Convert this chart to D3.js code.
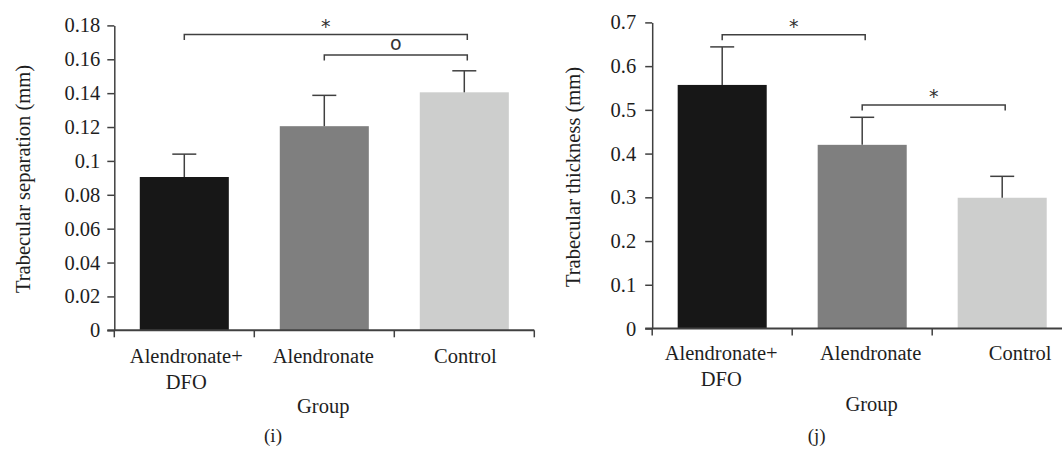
<!DOCTYPE html>
<html><head><meta charset="utf-8">
<script src="https://cdn.jsdelivr.net/npm/d3@7"></script>
<style>
body{margin:0;background:#fff;}
svg{display:block;}
text{font-family:"Liberation Serif","Times New Roman",serif;fill:#1e1e1e;}
text.mark{font-family:"DejaVu Sans",sans-serif;fill:#333;}
</style></head>
<body>
<svg id="chart" width="1062" height="451"></svg>
<script>
// ---- data ----
const categories = ["Alendronate+\nDFO", "Alendronate", "Control"];
const barColors = ["#171717", "#7f7f7f", "#cdcecd"];

// panel (i) Trabecular separation
const sepMeans = [0.0905, 0.1205, 0.1405];
const sepErrTop = [0.104, 0.1387, 0.1532];
const sepTicks = [0, 0.02, 0.04, 0.06, 0.08, 0.1, 0.12, 0.14, 0.16, 0.18];
const sepTickLabels = ["0", "0.02", "0.04", "0.06", "0.08", "0.1", "0.12", "0.14", "0.16", "0.18"];
const sepBrackets = [
  {from: 0, to: 2, level: 0.1746, mark: "*"},
  {from: 1, to: 2, level: 0.1625, mark: "o"}
];

// panel (j) Trabecular thickness
const thkMeans = [0.557, 0.42, 0.299];
const thkErrTop = [0.644, 0.483, 0.348];
const thkTicks = [0, 0.1, 0.2, 0.3, 0.4, 0.5, 0.6, 0.7];
const thkTickLabels = ["0", "0.1", "0.2", "0.3", "0.4", "0.5", "0.6", "0.7"];
const thkBrackets = [
  {from: 0, to: 1, level: 0.672, mark: "*"},
  {from: 1, to: 2, level: 0.511, mark: "*"}
];

const svg = d3.select("#chart");
const lineColor = "#404040";

function panel(cfg) {
  const g = svg.append("g");
  const x = d3.scaleBand().domain(d3.range(categories.length))
    .range([cfg.x0, cfg.x0 + 3 * 140]).paddingInner(0.364).paddingOuter(0.182);
  const y = d3.scaleLinear().domain([0, cfg.yMax]).range([cfg.y0, cfg.yTop]);
  const cx = i => x(i) + x.bandwidth() / 2;

  // bars
  g.selectAll("rect.bar").data(cfg.means).join("rect")
    .attr("x", (d, i) => x(i)).attr("width", x.bandwidth())
    .attr("y", d => y(d)).attr("height", d => y(0) - y(d))
    .attr("fill", (d, i) => barColors[i]);

  // error bars (upper only)
  const eg = g.selectAll("g.err").data(cfg.errTop).join("g");
  eg.append("line").attr("x1", (d, i) => cx(i)).attr("x2", (d, i) => cx(i))
    .attr("y1", (d, i) => y(cfg.means[i])).attr("y2", d => y(d))
    .attr("stroke", lineColor).attr("stroke-width", 1.5);
  eg.append("line").attr("x1", (d, i) => cx(i) - 12).attr("x2", (d, i) => cx(i) + 12)
    .attr("y1", d => y(d)).attr("y2", d => y(d))
    .attr("stroke", lineColor).attr("stroke-width", 1.5);

  // y axis
  const yAxis = d3.axisLeft(y).tickValues(cfg.ticks)
    .tickFormat((d, i) => cfg.tickLabels[i]).tickSizeInner(7).tickSizeOuter(0).tickPadding(cfg.tickPad);
  const ya = g.append("g").attr("transform", `translate(${cfg.x0},0)`).call(yAxis)
    .attr("font-family", null).attr("font-size", null);
  ya.select(".domain").attr("stroke", lineColor).attr("stroke-width", 1.5);
  ya.selectAll(".tick line").attr("stroke", lineColor).attr("stroke-width", 1.5);
  ya.selectAll(".tick text").attr("font-size", 20.5).attr("fill", null);

  // x axis line with downward ticks at band edges
  const xEnd = cfg.x0 + 3 * 140;
  g.append("line").attr("x1", cfg.x0 - 7).attr("x2", Math.min(xEnd, 1062)).attr("y1", y(0)).attr("y2", y(0))
    .attr("stroke", lineColor).attr("stroke-width", 2);
  g.selectAll("line.xt").data(d3.range(4)).join("line")
    .attr("x1", i => cfg.x0 + i * 140).attr("x2", i => cfg.x0 + i * 140)
    .attr("y1", y(0)).attr("y2", y(0) + 7)
    .attr("stroke", lineColor).attr("stroke-width", 1.5);

  // category labels
  categories.forEach((c, i) => {
    const t = g.append("text").attr("text-anchor", "middle").attr("font-size", 20.5)
      .attr("x", cx(i) + cfg.labelShift[i]).attr("y", cfg.labelY);
    c.split("\n").forEach((s, k) => t.append("tspan").attr("x", cx(i) + cfg.labelShift[i]).attr("dy", k ? 26 : 0).text(s));
  });

  // x title
  g.append("text").attr("text-anchor", "middle").attr("font-size", 20.5)
    .attr("x", cfg.groupX).attr("y", cfg.groupY).text("Group");

  // y title
  g.append("text").attr("text-anchor", "middle").attr("font-size", 20.5)
    .attr("transform", `translate(${cfg.titleX},${cfg.titleY}) rotate(-90)`).text(cfg.yTitle);

  // panel label
  g.append("text").attr("text-anchor", "middle").attr("font-size", 19)
    .attr("x", cfg.panelX).attr("y", 442).text(cfg.panelLabel);

  // significance brackets
  cfg.brackets.forEach(b => {
    const x1 = cx(b.from), x2 = cx(b.to) + 3, yy = y(b.level);
    g.append("path").attr("d", `M${x1},${yy + 5.5}V${yy}H${x2}V${yy + 5.5}`)
      .attr("fill", "none").attr("stroke", lineColor).attr("stroke-width", 1.5);
    if (b.mark === "*") {
      g.append("text").attr("class", "mark").attr("text-anchor", "middle").attr("font-size", 19)
        .attr("x", (x1 + x2) / 2).attr("y", yy - 2).text("*");
    } else {
      g.append("text").attr("class", "mark").attr("text-anchor", "middle").attr("font-size", 19)
        .attr("x", (x1 + x2) / 2).attr("y", yy - 5).text("o");
    }
  });
}

panel({
  x0: 114.3, y0: 330.3, yTop: 25.4, yMax: 0.18,
  means: sepMeans, errTop: sepErrTop, ticks: sepTicks, tickLabels: sepTickLabels,
  brackets: sepBrackets, tickPad: 7, labelShift: [2, -1, 1], labelY: 363,
  groupX: 323.2, groupY: 413, titleX: 30, titleY: 179, yTitle: "Trabecular separation (mm)",
  panelX: 273, panelLabel: "(i)"
});
panel({
  x0: 652.2, y0: 328.5, yTop: 22.4, yMax: 0.7,
  means: thkMeans, errTop: thkErrTop, ticks: thkTicks, tickLabels: thkTickLabels,
  brackets: thkBrackets, tickPad: 9, labelShift: [-1, 8.5, 18], labelY: 359.5,
  groupX: 871.6, groupY: 411, titleX: 580, titleY: 177, yTitle: "Trabecular thickness (mm)",
  panelX: 816.7, panelLabel: "(j)"
});
</script>
</body></html>
